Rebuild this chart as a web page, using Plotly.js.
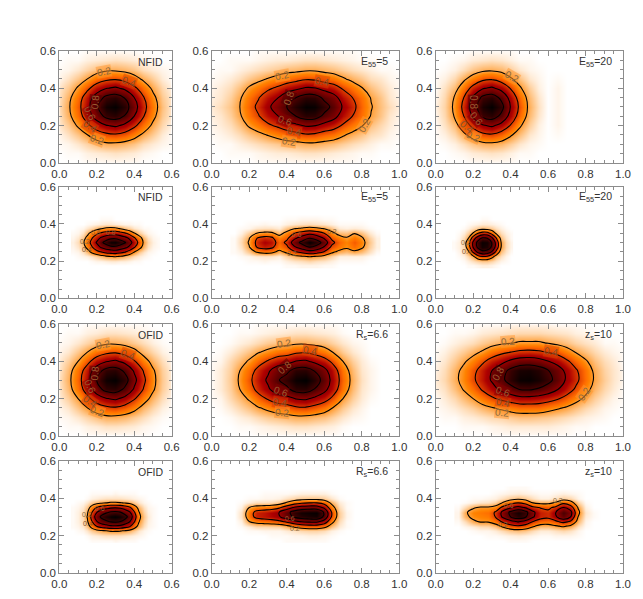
<!DOCTYPE html>
<html>
<head>
<meta charset="utf-8">
<script src="https://cdn.plot.ly/plotly-3.0.1.min.js"></script>
<style>html,body{margin:0;padding:0;background:#fff}</style>
</head>
<body>
<div id="chart" style="width:643px;height:599px"></div>
<script>
// Sample positions of the estimated surfaces
const xTopNarrow = [0,.05,.1,.15,.2,.25,.3,.35,.4,.45,.5,.55,.6];
const xTopWide = [0,.05,.1,.15,.2,.25,.3,.35,.4,.45,.5,.55,.6,.65,.7,.75,.8,.85,.9,.95,1];
const yTop = [0,.05,.1,.15,.2,.25,.3,.35,.4,.45,.5,.55,.6];
const xThinNarrow = [.075,.1,.125,.15,.175,.2,.225,.25,.275,.3,.325,.35,.375,.4,.425,.45,.475,.5,.525];
const xThinWide = [.12,.16,.2,.24,.28,.32,.36,.4,.44,.48,.52,.56,.6,.64,.68,.72,.76,.8,.84,.88];
const xThinSmall = [.1,.125,.15,.175,.2,.225,.25,.275,.3,.325,.35,.375,.4];
const yThin = [.175,.2,.225,.25,.275,.3,.325,.35,.375,.4,.425,.45];

// Panel values in percent of the peak, rows bottom to top
const zNfidBroad = [
[0,0,0,1,1,1,1,1,1,0,0,0,0],
[0,1,1,3,4,5,6,5,4,2,1,0,0],
[1,2,5,9,13,17,17,15,12,7,4,2,1],
[2,6,12,20,30,36,38,34,26,17,10,4,1],
[5,11,22,36,50,59,63,56,44,30,17,8,3],
[6,16,31,50,69,85,89,79,60,41,24,11,5],
[7,18,34,54,77,95,99,89,68,46,27,13,5],
[6,16,31,50,69,85,89,79,60,41,24,11,5],
[5,11,22,36,50,59,63,56,44,30,17,8,3],
[2,6,12,20,30,36,38,34,26,17,10,4,1],
[1,2,5,9,13,17,17,15,12,7,4,2,1],
[0,1,1,3,4,5,6,5,4,2,1,0,0],
[0,0,0,1,1,1,1,1,1,0,0,0,0]];
const zE5Broad = [
[0,0,0,0,0,1,1,1,1,1,1,1,1,1,1,1,0,0,0,0,0],
[0,0,1,1,1,2,3,4,4,5,6,6,5,4,3,2,1,1,0,0,0],
[0,1,1,3,5,7,9,11,14,15,17,17,15,13,10,7,5,3,1,1,0],
[1,2,4,7,12,16,21,26,30,34,38,37,32,29,22,16,12,7,5,2,1],
[2,4,7,13,22,29,37,43,51,56,62,61,54,48,38,29,21,13,8,4,1],
[3,5,10,18,30,39,50,59,72,80,89,88,76,67,51,40,30,19,12,5,2],
[4,7,12,20,33,44,57,67,80,91,99,98,87,75,58,45,32,21,13,7,3],
[3,5,10,18,30,39,50,59,72,80,89,88,76,67,51,40,30,19,12,5,2],
[2,4,7,13,22,29,37,43,51,56,62,61,54,48,38,29,21,13,8,4,1],
[1,2,4,7,12,16,21,26,30,34,38,37,32,29,22,16,12,7,5,2,1],
[0,1,1,3,5,7,9,11,14,15,17,17,15,13,10,7,5,3,1,1,0],
[0,0,1,1,1,2,3,4,4,5,6,6,5,4,3,2,1,1,0,0,0],
[0,0,0,0,0,1,1,1,1,1,1,1,1,1,1,1,0,0,0,0,0]];
const zE20Broad = [
[0,0,0,0,1,1,1,1,1,0,0,0,0,0,0,0,0,0,0,0,0],
[0,0,1,2,4,5,6,5,3,1,1,0,0,0,0,0,0,0,0,0,0],
[0,1,3,7,12,16,17,15,10,5,2,1,0,0,0,0,0,0,0,0,0],
[1,3,8,17,27,36,38,32,22,13,5,2,0,1,0,0,0,0,0,0,0],
[1,6,14,29,46,58,63,54,39,22,10,3,0,2,0,0,0,0,0,0,0],
[2,8,21,40,63,84,89,76,53,32,14,5,0,2,0,0,0,0,0,0,0],
[3,9,23,45,70,93,99,87,59,36,16,6,0,2,0,0,0,0,0,0,0],
[2,8,21,40,63,84,89,76,53,32,14,5,0,2,0,0,0,0,0,0,0],
[1,6,14,29,46,58,63,54,39,22,10,3,0,2,0,0,0,0,0,0,0],
[1,3,8,17,27,36,38,32,22,13,5,2,0,1,0,0,0,0,0,0,0],
[0,1,3,7,12,16,17,15,10,5,2,1,0,0,0,0,0,0,0,0,0],
[0,0,1,2,4,5,6,5,3,1,1,0,0,0,0,0,0,0,0,0,0],
[0,0,0,0,1,1,1,1,1,0,0,0,0,0,0,0,0,0,0,0,0]];
const zOfidBroad = [
[0,0,0,1,1,1,1,1,1,1,0,0,0],
[0,1,1,3,4,6,6,5,4,2,1,0,0],
[1,2,5,9,13,17,17,15,11,7,3,1,0],
[2,5,12,20,30,36,38,33,25,15,8,3,1],
[4,10,20,35,50,59,63,55,42,27,15,7,2],
[5,14,30,49,71,87,89,77,58,39,22,10,4],
[6,16,33,53,80,96,99,88,65,44,24,11,4],
[5,14,30,49,71,87,89,77,58,39,22,10,4],
[4,10,20,35,50,59,63,55,42,27,15,7,2],
[2,5,12,20,30,36,38,33,25,15,8,3,1],
[1,2,5,9,13,17,17,15,11,7,3,1,0],
[0,1,1,3,4,6,6,5,4,2,1,0,0],
[0,0,0,1,1,1,1,1,1,1,0,0,0]];
const zRsBroad = [
[0,0,0,0,0,1,1,1,1,1,1,1,1,1,0,0,0,0,0,0,0],
[0,0,0,1,1,2,3,4,5,6,6,5,4,3,1,0,0,0,0,0,0],
[0,0,1,3,5,8,11,13,15,17,17,15,13,9,5,2,1,0,0,0,0],
[0,1,4,8,13,19,24,30,32,37,38,34,28,19,11,5,2,0,0,0,0],
[1,2,8,14,22,33,42,50,54,61,63,56,48,35,20,10,4,1,0,0,0],
[1,4,10,20,32,46,57,70,76,88,89,79,66,48,29,14,5,2,0,0,0],
[1,4,11,22,36,50,63,78,87,97,100,90,73,52,32,16,6,2,0,0,0],
[1,4,10,20,32,46,57,70,76,88,89,79,66,48,29,14,5,2,0,0,0],
[1,2,8,14,22,33,42,50,54,61,63,56,48,35,20,10,4,1,0,0,0],
[0,1,4,8,13,19,24,30,32,37,38,34,28,19,11,5,2,0,0,0,0],
[0,0,1,3,5,8,11,13,15,17,17,15,13,9,5,2,1,0,0,0,0],
[0,0,0,1,1,2,3,4,5,6,6,5,4,3,1,0,0,0,0,0,0],
[0,0,0,0,0,1,1,1,1,1,1,1,1,1,0,0,0,0,0,0,0]];
const zZsBroad = [
[0,0,0,0,0,0,1,1,1,1,1,1,1,1,1,0,0,0,0,0,0],
[0,0,0,1,1,1,2,3,4,4,4,4,4,3,2,1,1,0,0,0,0],
[0,1,1,3,4,6,8,9,11,13,13,12,11,9,7,5,3,2,1,0,0],
[1,2,4,7,10,15,19,23,27,30,30,30,26,22,18,13,8,5,2,1,0],
[1,4,8,14,20,29,37,44,49,54,54,52,48,42,34,25,17,10,5,2,1],
[3,6,13,21,30,42,53,64,73,81,82,78,71,61,49,37,25,15,8,4,1],
[4,8,16,25,37,49,62,75,88,97,98,94,86,73,57,44,30,18,10,5,2],
[3,7,15,24,35,48,60,72,85,93,94,90,81,70,55,42,29,17,9,5,2],
[2,5,11,18,26,37,47,55,64,70,71,68,61,53,43,32,22,13,7,4,1],
[1,3,7,11,16,22,30,36,40,44,45,43,39,35,27,19,13,8,4,2,1],
[0,1,3,5,7,11,14,17,19,22,22,22,19,16,13,9,6,4,1,1,0],
[0,0,1,1,2,4,5,6,7,8,8,8,7,6,5,3,2,1,0,0,0],
[0,0,0,0,0,1,1,1,2,2,2,2,2,1,1,1,0,0,0,0,0]];

const zNfidThin = [
[0,0,0,0,0,0,0,0,0,0,0,0,0,0,0,0,0,0,0],
[0,0,0,0,1,2,2,3,4,4,3,3,2,1,1,0,0,0,0],
[0,1,2,3,6,10,14,18,20,21,19,15,11,7,4,2,1,0,0],
[1,2,6,13,25,35,41,48,50,52,48,42,33,21,11,5,2,1,0],
[2,5,12,25,39,52,63,70,75,76,71,65,56,42,28,14,6,2,1],
[3,7,16,31,46,62,77,87,97,98,90,82,68,52,36,18,8,3,1],
[2,5,12,25,39,52,63,70,75,76,71,65,56,42,28,14,6,2,1],
[1,2,6,15,27,36,43,48,50,52,48,42,33,21,11,5,2,1,0],
[0,1,2,5,9,15,19,23,24,23,19,13,9,5,3,1,1,0,0],
[0,0,0,1,2,3,4,5,5,4,3,2,2,1,1,0,0,0,0],
[0,0,0,0,0,0,1,1,1,0,0,0,0,0,0,0,0,0,0],
[0,0,0,0,0,0,0,0,0,0,0,0,0,0,0,0,0,0,0]];
const zE5Thin = [
[0,0,0,0,0,0,0,1,1,2,2,2,1,1,0,0,0,0,0,0],
[0,0,1,1,2,1,1,3,5,6,8,6,5,3,1,1,1,1,0,0],
[0,1,2,4,5,5,3,9,15,18,21,19,15,9,3,3,3,3,1,0],
[1,3,11,22,27,25,16,24,38,46,53,49,39,24,16,13,17,13,6,1],
[1,6,19,40,47,44,28,36,57,69,80,73,58,36,28,23,30,23,10,3],
[1,8,22,44,54,50,32,44,70,85,99,90,72,45,32,26,34,26,12,3],
[1,7,19,39,46,43,27,35,55,67,78,71,57,36,27,21,29,22,10,3],
[0,3,11,20,24,23,14,25,39,48,55,50,40,25,14,13,19,13,5,1],
[0,1,2,5,6,6,4,12,19,22,25,23,19,12,4,3,4,3,1,0],
[0,0,1,1,2,1,1,3,5,6,7,6,5,3,1,1,1,1,0,0],
[0,0,0,0,0,0,0,1,1,2,2,2,1,1,0,0,0,0,0,0],
[0,0,0,0,0,0,0,0,0,0,0,0,0,0,0,0,0,0,0,0]];
const zE20Thin = [
[0,0,0,1,1,2,3,3,2,1,0,0,0],
[0,0,1,3,6,9,11,11,8,5,2,1,0],
[0,1,3,8,17,33,41,39,26,13,6,2,0],
[0,2,7,18,44,65,75,73,59,34,12,5,1],
[1,3,9,30,61,84,95,92,77,51,19,7,2],
[1,3,10,31,63,86,97,95,79,52,19,7,2],
[0,2,8,19,49,69,81,79,63,38,13,5,1],
[0,1,4,10,21,39,48,47,34,16,7,3,1],
[0,0,1,3,7,11,14,13,10,6,3,1,0],
[0,0,0,1,2,3,4,4,3,2,1,0,0],
[0,0,0,0,0,0,1,1,0,0,0,0,0],
[0,0,0,0,0,0,0,0,0,0,0,0,0]];
const zOfidThin = [
[0,0,0,0,1,1,1,1,1,2,1,1,1,1,0,0,0,0,0],
[0,0,0,1,3,4,5,6,6,6,6,5,4,3,2,1,0,0,0],
[0,1,2,5,11,15,18,20,22,22,21,19,16,11,5,2,1,0,0],
[1,2,5,12,28,41,49,53,57,58,56,50,43,29,15,6,2,1,0],
[1,3,7,18,40,59,71,77,82,84,81,73,62,42,21,9,3,1,0],
[1,3,8,21,48,70,84,92,98,100,96,87,74,50,25,11,4,1,0],
[1,3,7,18,40,59,71,77,82,84,81,73,62,42,21,9,3,1,0],
[1,2,5,12,28,41,49,53,57,58,56,50,43,29,15,6,2,1,0],
[0,1,2,5,11,15,18,20,22,22,21,19,16,11,5,2,1,0,0],
[0,0,0,1,3,4,5,6,6,6,6,5,4,3,2,1,0,0,0],
[0,0,0,0,1,1,1,1,1,2,1,1,1,1,0,0,0,0,0],
[0,0,0,0,0,0,0,0,0,0,0,0,0,0,0,0,0,0,0]];
const zRsThin = [
[0,0,0,0,0,0,0,1,1,1,1,1,1,0,0,0,0,0,0,0],
[0,0,0,0,0,1,1,1,2,2,3,3,2,1,0,0,0,0,0,0],
[0,0,1,1,2,2,2,4,6,8,9,9,7,3,1,0,0,0,0,0],
[0,1,4,8,8,9,10,16,24,30,33,33,27,13,4,1,0,0,0,0],
[0,3,20,27,30,32,36,44,56,62,64,65,52,26,7,1,0,0,0,0],
[0,6,30,46,49,52,58,71,83,90,93,95,76,38,10,2,0,0,0,0],
[0,6,30,46,49,53,60,74,87,95,97,98,78,39,10,2,0,0,0,0],
[0,3,20,27,29,31,37,50,62,68,70,70,56,28,7,1,0,0,0,0],
[0,1,4,7,7,8,12,22,32,38,40,40,33,16,4,1,0,0,0,0],
[0,0,1,1,2,2,3,6,9,11,12,12,10,5,1,0,0,0,0,0],
[0,0,0,0,1,1,1,1,2,3,3,3,3,1,0,0,0,0,0,0],
[0,0,0,0,0,0,0,0,0,0,0,0,0,0,0,0,0,0,0,0]];
const zZsThin = [
[0,0,0,0,0,0,0,1,1,1,0,0,0,0,0,0,0,0,0,0],
[0,0,0,0,1,1,2,3,4,3,2,1,1,2,2,2,1,0,0,0],
[0,0,1,2,2,4,8,12,14,12,7,4,4,6,8,6,2,0,0,0],
[0,2,4,7,8,13,24,34,38,33,22,14,14,18,22,17,6,1,0,0],
[1,7,17,22,22,29,44,54,62,54,40,32,30,36,46,38,14,2,0,0],
[2,16,24,26,28,41,64,80,90,82,62,46,44,57,74,60,20,4,1,0],
[2,18,26,28,30,42,66,84,95,86,64,47,44,59,80,66,24,5,1,0],
[1,8,18,22,22,26,46,58,66,58,44,39,36,44,60,50,19,3,0,0],
[0,1,3,5,6,10,22,34,40,34,20,16,16,22,36,28,9,1,0,0],
[0,0,1,1,2,3,7,11,14,11,6,3,3,6,10,8,2,0,0,0],
[0,0,0,0,0,1,2,3,4,3,2,1,1,2,3,2,1,0,0,0],
[0,0,0,0,0,0,0,1,1,1,0,0,0,0,0,0,0,0,0,0]];

// Contour labels as [text, x, y, slope in degrees] on each panel's axes
const labelsNfidBroad = [["0.2",.24,.489,-10],["0.4",.37,.435,20],["0.2",.2,.125,20],["0.4",.165,.195,35],["0.6",.165,.265,65],["0.8",.19,.325,-85]];
const labelsE5Broad = [["0.2",.377,.47,-10],["0.4",.59,.438,10],["0.8",.41,.345,-70],["0.6",.39,.228,20],["0.4",.439,.165,12],["0.2",.41,.115,8],["0.2",.812,.202,-60]];
const labelsE20Broad = [["0.2",.405,.465,30],["0.2",.2,.14,25],["0.4",.165,.195,40],["0.6",.215,.235,50],["0.8",.205,.325,90]];
const labelsOfidBroad = [["0.2",.235,.492,-10],["0.4",.365,.44,20],["0.2",.203,.129,20],["0.4",.165,.185,35],["0.6",.165,.265,65],["0.8",.19,.335,-85]];
const labelsRsBroad = [["0.2",.385,.496,-8],["0.4",.524,.457,10],["0.8",.39,.365,-40],["0.6",.368,.24,20],["0.4",.364,.18,10],["0.2",.373,.125,5]];
const labelsZsBroad = [["0.2",.387,.505,-5],["0.4",.615,.451,10],["0.8",.334,.335,-60],["0.6",.357,.24,20],["0.4",.36,.18,12],["0.2",.352,.125,5],["0.2",.79,.224,-55]];
const labelsNfidThin = [["0.2",.137,.304,0],["0.4",.146,.262,0],["0.6",.195,.352,0],["0.8",.275,.352,0]];
const labelsE5Thin = [["0.6",.453,.343,0],["0.2",.64,.36,0],["0.2",.426,.241,0]];
const labelsE20Thin = [["0.2",.162,.298,0],["0.4",.169,.254,0]];
const labelsOfidThin = [["0.2",.146,.31,0],["0.4",.155,.265,0],["0.6",.217,.346,0]];
const labelsRsThin = [["0.2",.444,.24,0],["0.6",.417,.29,0]];
const labelsZsThin = [["0.2",.654,.389,0],["0.6",.393,.362,0],["0.2",.36,.26,0]];

const panelLabels = ["NFID","E<sub>55</sub>=5","E<sub>55</sub>=20","NFID","E<sub>55</sub>=5","E<sub>55</sub>=20","OFID","R<sub>s</sub>=6.6","z<sub>s</sub>=10","OFID","R<sub>s</sub>=6.6","z<sub>s</sub>=10"];
const panelZ = [zNfidBroad,zE5Broad,zE20Broad,zNfidThin,zE5Thin,zE20Thin,zOfidBroad,zRsBroad,zZsBroad,zOfidThin,zRsThin,zZsThin];
const panelX = [xTopNarrow,xTopWide,xTopWide,xThinNarrow,xThinWide,xThinSmall,xTopNarrow,xTopWide,xTopWide,xThinNarrow,xThinWide,xThinWide];
const panelY = [yTop,yTop,yTop,yThin,yThin,yThin,yTop,yTop,yTop,yThin,yThin,yThin];
const panelContourLabels = [labelsNfidBroad,labelsE5Broad,labelsE20Broad,labelsNfidThin,labelsE5Thin,labelsE20Thin,labelsOfidBroad,labelsRsBroad,labelsZsBroad,labelsOfidThin,labelsRsThin,labelsZsThin];
const xMax = [0.6,1,1];

const W = 643, H = 599;
const colPx = [[59.3,171.7],[211.7,399.3],[435.7,623]];
const rowPx = [[51,162.7],[186.7,298.3],[324.3,435.7],[461,572.7]];
const heat = [[0,'#ffffff'],[.1,'rgb(255,207,155)'],[.255,'rgb(255,132,0)'],[.31,'rgb(255,106,0)'],[.53,'rgb(174,0,0)'],[1,'#000000']];
const gapColour = {"0.2":'rgba(255,150,45,.5)',"0.4":'rgba(222,62,0,.5)',"0.6":'rgba(130,0,0,.5)',"0.8":'rgba(75,0,0,.5)'};
const labelInk = {"0.2":'#8a6a40',"0.4":'#85532c',"0.6":'#9a5a30',"0.8":'#9a5a30'};
const FRAME = '#8c8c8c', FONT = {family:'"Liberation Sans", Arial, sans-serif', size:11.5, color:'#333'};

const traces = [], layout = {width:W,height:H,margin:{l:0,r:0,t:0,b:0},paper_bgcolor:'#fff',plot_bgcolor:'#fff',showlegend:false,annotations:[],font:FONT};
panelZ.forEach((zp,i)=>{
  const c = i%3, r = Math.floor(i/3), n = i+1, sfx = n===1?'':n, thin = r%2===1;
  const z = zp.map(row=>row.map(v=>v/100));
  traces.push({type:'heatmap',x:panelX[i],y:panelY[i],z:z,zmin:0,zmax:1,colorscale:heat,zsmooth:'best',showscale:false,hoverinfo:'skip',xaxis:'x'+sfx,yaxis:'y'+sfx});
  traces.push({type:'contour',x:panelX[i],y:panelY[i],z:z,autocontour:false,showscale:false,hoverinfo:'skip',xaxis:'x'+sfx,yaxis:'y'+sfx,
    contours:{start:.2,end:.8,size:.2,coloring:'none',showlabels:false},
    line:{color:'#000',width:1.1,smoothing:1}});
  const axis = {showgrid:false,zeroline:false,showline:true,linecolor:FRAME,linewidth:1,mirror:'allticks',ticks:'inside',ticklen:5,tickcolor:FRAME,tickwidth:1,
    tick0:0,dtick:.2,tickformat:'.1f',tickfont:FONT,minor:{ticks:'inside',dtick:.05,ticklen:3,tickcolor:FRAME,tickwidth:1,showgrid:false}};
  layout['xaxis'+sfx] = Object.assign({},axis,{range:[0,xMax[c]],domain:[colPx[c][0]/W,colPx[c][1]/W],anchor:'y'+sfx,fixedrange:true});
  layout['yaxis'+sfx] = Object.assign({},axis,{range:[0,.6],domain:[1-rowPx[r][1]/H,1-rowPx[r][0]/H],anchor:'x'+sfx,fixedrange:true});
  layout.annotations.push({text:panelLabels[i],xref:'x'+sfx+' domain',yref:'y'+sfx+' domain',x:c===0?.94:.95,y:.905,xanchor:'right',yanchor:'middle',showarrow:false,font:{family:FONT.family,size:10.5,color:'#333'}});
  panelContourLabels[i].forEach(([t,lx,ly,slope])=>{
    layout.annotations.push({text:t,x:lx,y:ly,xref:'x'+sfx,yref:'y'+sfx,xanchor:'center',yanchor:'middle',showarrow:false,textangle:slope,
      borderpad:0,bgcolor:thin?'rgba(0,0,0,0)':gapColour[t],
      font:{family:FONT.family,size:thin?7:10,color:labelInk[t]}});
  });
});
Plotly.newPlot('chart',traces,layout,{displayModeBar:false,staticPlot:true});
</script>
</body>
</html>
